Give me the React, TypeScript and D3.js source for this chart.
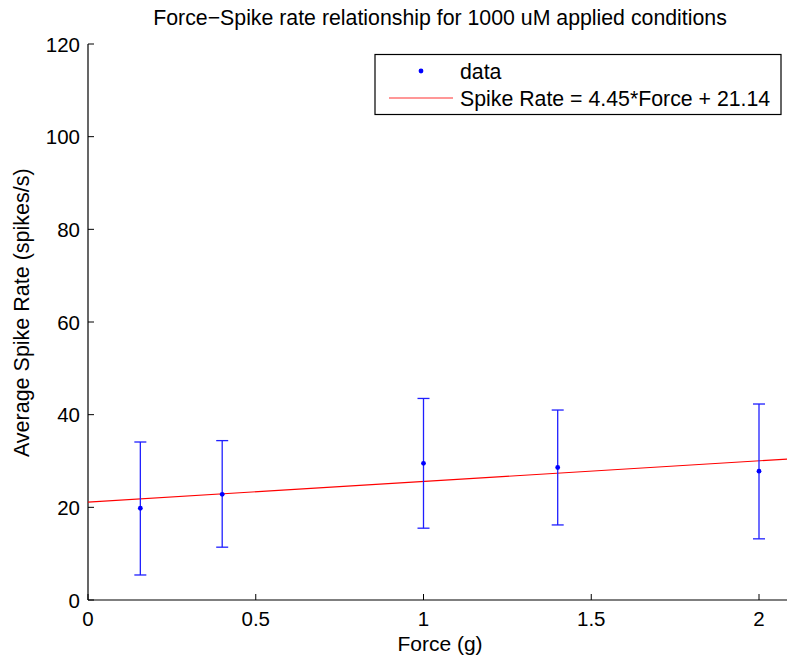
import * as d3 from 'd3';

const forces = [0.156, 0.4, 1.0, 1.4, 2.0];
const meanRates = [19.8, 22.8, 29.5, 28.6, 27.8];
const upperRates = [34.1, 34.4, 43.5, 41.0, 42.3];
const lowerRates = [5.4, 11.4, 15.5, 16.2, 13.2];
const fitSlope = 4.45;
const fitIntercept = 21.14;
const xTicks = [0, 0.5, 1, 1.5, 2];
const yTicks = [0, 20, 40, 60, 80, 100, 120];
const titleText = 'Force\u2212Spike rate relationship for 1000 uM applied conditions';
const legendLabels = ['data', 'Spike Rate = 4.45*Force + 21.14'];

export default function App() {
  const width = 787;
  const height = 662;
  const font = 'Liberation Sans, Arial, Helvetica, sans-serif';

  const x = d3.scaleLinear().domain([0, 2]).range([88, 759]);
  const y = d3.scaleLinear().domain([0, 120]).range([600, 44]);
  const xEnd = x.invert(width + 5);

  const fitLine = d3
    .line<number>()
    .x((d) => x(d))
    .y((d) => y(fitSlope * d + fitIntercept));

  const capHalf = 6;
  const blue = '#1f1fff';

  return (
    <svg
      width={width}
      height={height}
      viewBox={`0 0 ${width} ${height}`}
      style={{ position: 'absolute', left: 0, top: 0, background: '#fff' }}
      fontFamily={font}
    >
      <rect width={width} height={height} fill="#fff" />
      <text x={440} y={25} textAnchor="middle" fontSize={21.3} fill="#000">
        {titleText}
      </text>

      {/* axes */}
      <line x1={x(0)} x2={width + 5} y1={y(0)} y2={y(0)} stroke="#000" strokeWidth={1.2} />
      <line x1={x(0)} x2={x(0)} y1={y(0)} y2={y(120)} stroke="#000" strokeWidth={1.2} />

      {yTicks.map((t) => (
        <g key={`y${t}`}>
          <line x1={x(0)} x2={x(0) + 6} y1={y(t)} y2={y(t)} stroke="#000" />
          <text x={80} y={y(t) + 7.5} textAnchor="end" fontSize={20.5} fill="#000">
            {t}
          </text>
        </g>
      ))}
      {xTicks.map((t) => (
        <g key={`x${t}`}>
          <line x1={x(t)} x2={x(t)} y1={y(0)} y2={y(0) - 6} stroke="#000" />
          <text x={x(t)} y={626} textAnchor="middle" fontSize={20.5} fill="#000">
            {t}
          </text>
        </g>
      ))}

      <text x={440} y={651} textAnchor="middle" fontSize={21} fill="#000">
        Force (g)
      </text>
      <text
        transform={`translate(29,${y(62)}) rotate(-90)`}
        textAnchor="middle"
        fontSize={21.5}
        fill="#000"
      >
        Average Spike Rate (spikes/s)
      </text>

      {/* fit line */}
      <path d={fitLine([0, xEnd]) ?? ''} fill="none" stroke="#ff0000" strokeWidth={1.2} />

      {/* error bars */}
      {forces.map((f, i) => (
        <g key={`e${i}`} stroke={blue} strokeWidth={1.3}>
          <line x1={x(f)} x2={x(f)} y1={y(upperRates[i])} y2={y(lowerRates[i])} />
          <line x1={x(f) - capHalf} x2={x(f) + capHalf} y1={y(upperRates[i])} y2={y(upperRates[i])} />
          <line x1={x(f) - capHalf} x2={x(f) + capHalf} y1={y(lowerRates[i])} y2={y(lowerRates[i])} />
          <circle cx={x(f)} cy={y(meanRates[i])} r={2.4} fill="#0000ff" stroke="none" />
        </g>
      ))}

      {/* legend */}
      <g>
        <rect x={375} y={54.5} width={406} height={60} fill="#fff" stroke="#000" strokeWidth={1.2} />
        <circle cx={421} cy={71} r={2.4} fill="#0000ff" />
        <line x1={389} x2={453} y1={98} y2={98} stroke="#ff3030" strokeWidth={1.2} />
        <text x={460} y={78.5} fontSize={21.3} fill="#000">
          {legendLabels[0]}
        </text>
        <text x={460} y={105.5} fontSize={21.3} fill="#000">
          {legendLabels[1]}
        </text>
      </g>
    </svg>
  );
}
